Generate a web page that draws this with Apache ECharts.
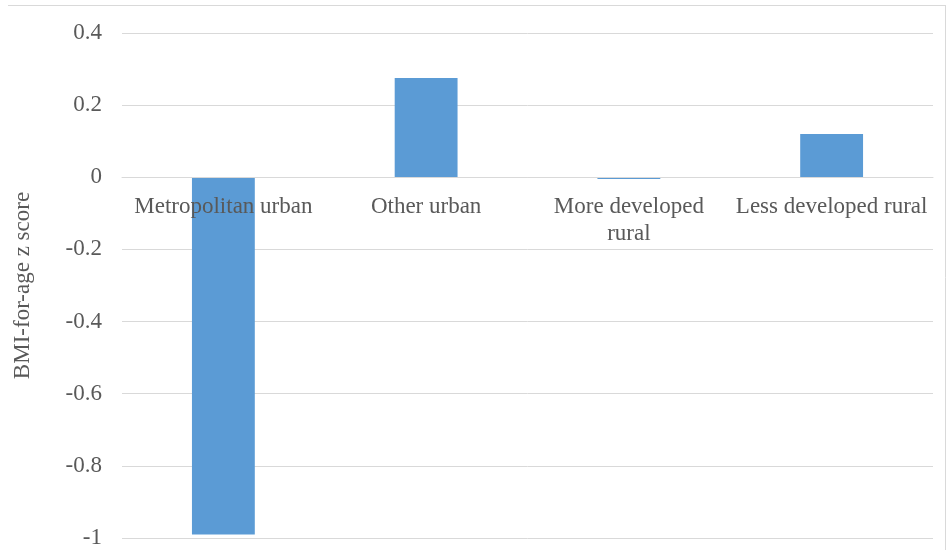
<!DOCTYPE html>
<html>
<head>
<meta charset="utf-8">
<script src="https://cdn.jsdelivr.net/npm/echarts@6/dist/echarts.min.js"></script>
<style>
  html, body { margin: 0; padding: 0; background: #fff; }
  #chart { width: 947px; height: 550px; }
</style>
</head>
<body>
<div id="chart"></div>
<script>
// Mean BMI-for-age z score by area type
const categories = ['Metropolitan urban', 'Other urban', 'More developed\nrural', 'Less developed rural'];
const zScores = [-0.99, 0.275, -0.005, 0.12];
const yTicks = { min: -1, max: 0.4, interval: 0.2 };

const chart = echarts.init(document.getElementById('chart'), null, { renderer: 'canvas' });

const serif = '"Liberation Serif", "Times New Roman", serif';
const gridTop = 33;
const gridBottom = 12;
const gridHeight = 550 - gridTop - gridBottom;
// distance from the top of the plot down to the zero line
const zeroOffset = gridHeight * (yTicks.max - 0) / (yTicks.max - yTicks.min);

chart.setOption({
  animation: false,
  backgroundColor: '#fff',
  graphic: [
    {
      type: 'line',
      shape: { x1: 8, y1: 5.5, x2: 946, y2: 5.5 },
      style: { stroke: '#d9d9d9', lineWidth: 1 },
      silent: true
    },
    {
      type: 'line',
      shape: { x1: 945.5, y1: 5, x2: 945.5, y2: 550 },
      style: { stroke: '#d9d9d9', lineWidth: 1 },
      silent: true
    }
  ],
  grid: { left: 122, right: 14, top: gridTop, bottom: gridBottom, outerBoundsMode: 'none', containLabel: false },
  xAxis: {
    type: 'category',
    data: categories,
    position: 'top',
    offset: -zeroOffset,
    z: 10,
    axisLine: { onZero: false, lineStyle: { color: '#d9d9d9', width: 1 } },
    axisTick: { show: false },
    axisLabel: {
      inside: true,
      color: '#595959',
      fontFamily: serif,
      fontSize: 23,
      margin: 16,
      lineHeight: 27,
      interval: 0
    },
    splitLine: { show: false }
  },
  yAxis: {
    type: 'value',
    min: yTicks.min,
    max: yTicks.max,
    interval: yTicks.interval,
    name: 'BMI-for-age z score',
    nameLocation: 'middle',
    nameGap: 88,
    nameRotate: 90,
    nameTextStyle: { color: '#595959', fontFamily: serif, fontSize: 23 },
    axisLine: { show: false },
    axisTick: { show: false },
    axisLabel: {
      color: '#595959',
      fontFamily: serif,
      fontSize: 23,
      margin: 20,
      formatter: v => String(Math.round(v * 10) / 10)
    },
    splitLine: { lineStyle: { color: '#d9d9d9', width: 1 } }
  },
  series: [{
    type: 'bar',
    data: zScores,
    barWidth: '31%',
    z: 2,
    itemStyle: { color: '#5b9bd5' }
  }]
});
</script>
</body>
</html>
